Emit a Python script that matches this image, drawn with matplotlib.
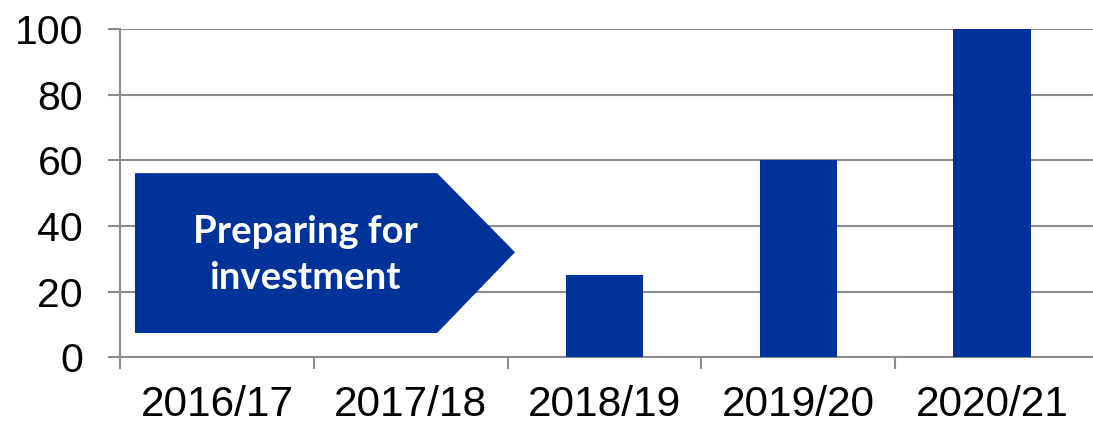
import numpy as np
import matplotlib.pyplot as plt
from matplotlib.patches import Polygon

# Data
years = ['2016/17', '2017/18', '2018/19', '2019/20', '2020/21']
values = [0, 0, 25, 60, 100]
yticks = [0, 20, 40, 60, 80, 100]

blue = '#003399'
grey = '#8c8c8c'

plt.rcParams['font.family'] = ['Liberation Sans', 'DejaVu Sans']

fig = plt.figure(figsize=(10.93, 4.26), dpi=100)
ax = fig.add_axes([0.1098, 0.1613, 0.8902, 0.7706])

x = np.arange(len(years))
ax.bar(x, values, width=0.4, color=blue, zorder=3)

ax.set_xlim(-0.5, len(years) - 0.48)
ax.set_ylim(0, 100)
ax.set_yticks(yticks)
ax.tick_params(axis='y', labelsize=29.5, length=8.6, width=1.5, color=grey, pad=18)

# category labels centred, tick marks on the boundaries
ax.set_xticks(x)
ax.set_xticklabels(years, fontsize=30.5)
ax.tick_params(axis='x', which='major', length=0, pad=20)
ax.set_xticks(np.arange(-0.5, len(years) - 1), minor=True)
ax.tick_params(axis='x', which='minor', length=8.6, width=1.5, color=grey)

ax.yaxis.grid(True, color=grey, linewidth=1.5, zorder=0)
ax.set_axisbelow(True)
for side in ['top', 'right']:
    ax.spines[side].set_visible(False)
for side in ['left', 'bottom']:
    ax.spines[side].set_color(grey)
    ax.spines[side].set_linewidth(1.5)

# arrow-shaped callout
arrow = Polygon([(-0.423, 7.4), (-0.423, 56.1), (1.136, 56.1), (1.538, 32), (1.136, 7.4)],
                closed=True, facecolor=blue, edgecolor='none', zorder=4)
ax.add_patch(arrow)
ax.text(0.455, 31.2, 'Preparing for\ninvestment', color='white', fontsize=27.5,
        fontweight='bold', family=['Lato', 'DejaVu Sans'], ha='center', va='center',
        linespacing=1.45, zorder=5)

fig.savefig('out.png', dpi=100)
